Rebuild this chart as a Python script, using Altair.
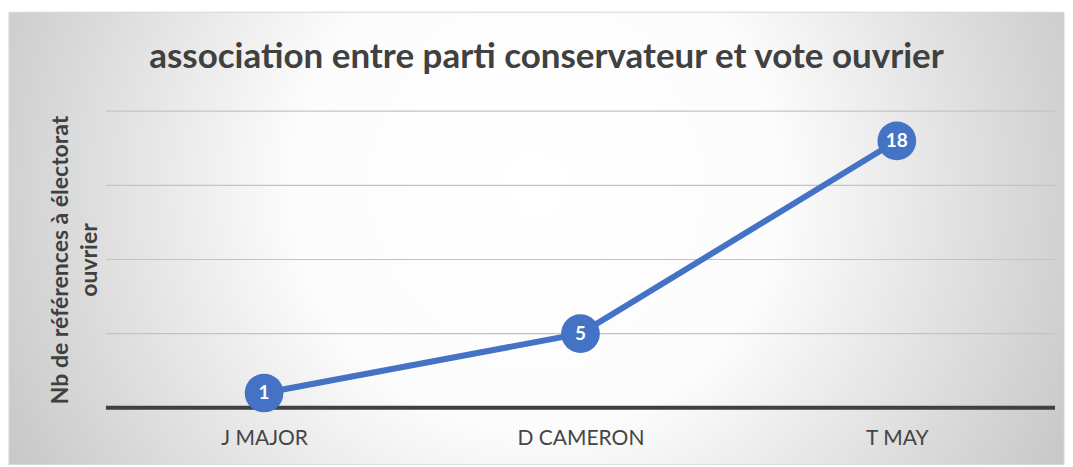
import altair as alt
import pandas as pd

categories = ["J MAJOR", "D CAMERON", "T MAY"]
values = [1, 5, 18]
grid_values = [5, 10, 15, 20]
baseline_values = [0]

title_text = "association entre parti conservateur et vote ouvrier"
y_title = ["Nb de références à électorat", "ouvrier"]

df = pd.DataFrame({"candidat": categories, "value": values})
grid_df = pd.DataFrame({"value": grid_values})
base_df = pd.DataFrame({"value": baseline_values})

W, H = 950, 297
PL, PT, PR, PB = 98, 103, 10, 57

yscale = alt.Scale(domain=[0, 20], nice=False, zero=True)
yaxis = alt.Axis(
    labels=False, ticks=False, domain=False, grid=False,
    titleFont="Lato", titleFontSize=23, titleFontWeight="bold",
    titleColor="#404040", titlePadding=4, titleLineHeight=29,
    zindex=1,
)

gradient = {
    "gradient": "radial",
    "x1": 0.5, "y1": 0.45, "r1": 0,
    "x2": 0.5, "y2": 0.45, "r2": 0.66,
    "stops": [
        {"offset": 0, "color": "#ffffff"},
        {"offset": 0.35, "color": "#fcfcfc"},
        {"offset": 1, "color": "#b8b8b8"},
    ],
}

bg = alt.Chart(alt.Data(values=[{}])).mark_rect(
    fill=gradient, stroke="#d6d6d6", strokeWidth=1, clip=False
).encode(
    x=alt.value(-PL + 1), x2=alt.value(W + PR - 1),
    y=alt.value(-PT + 4), y2=alt.value(H + PB),
)

grid = alt.Chart(grid_df).mark_rule(color="#c3c3c3", strokeWidth=1.2).encode(
    y=alt.Y("value:Q", scale=yscale, title=y_title, axis=yaxis)
)

baseline = alt.Chart(base_df).mark_rule(color="#404040", strokeWidth=4).encode(
    y=alt.Y("value:Q", scale=yscale, title=y_title, axis=yaxis)
)

x_enc = alt.X(
    "candidat:N", sort=categories, title=None,
    axis=alt.Axis(
        labelAngle=0, ticks=False, domain=False, grid=False,
        labelFont="Lato", labelFontSize=21, labelColor="#454545",
        labelPadding=20, zindex=1,
    ),
)

line = alt.Chart(df).mark_line(color="#4472C4", strokeWidth=6).encode(
    x=x_enc,
    y=alt.Y("value:Q", scale=yscale, title=y_title, axis=yaxis),
)

points = alt.Chart(df).mark_circle(color="#4472C4", opacity=1, size=1500).encode(
    x=alt.X("candidat:N", sort=categories),
    y=alt.Y("value:Q", scale=yscale, title=y_title, axis=yaxis),
)

labels = alt.Chart(df).mark_text(
    color="white", font="Lato", fontSize=19, fontWeight="bold", baseline="middle"
).encode(
    x=alt.X("candidat:N", sort=categories),
    y=alt.Y("value:Q", scale=yscale, title=y_title, axis=yaxis),
    text=alt.Text("value:Q"),
)

chart = alt.layer(bg, grid, baseline, line, points, labels).properties(
    width=W,
    height=H,
    title=alt.TitleParams(
        text=title_text, font="Lato", fontSize=35, fontWeight="bold",
        color="#404040", anchor="middle", dx=-34, offset=-63,
    ),
    padding={"left": PL, "top": PT, "right": PR, "bottom": PB},
    autosize=alt.AutoSizeParams(type="none"),
).configure_view(stroke=None).configure(background="white")

chart.save("out.html", embed_options={"renderer": "svg", "actions": False})
